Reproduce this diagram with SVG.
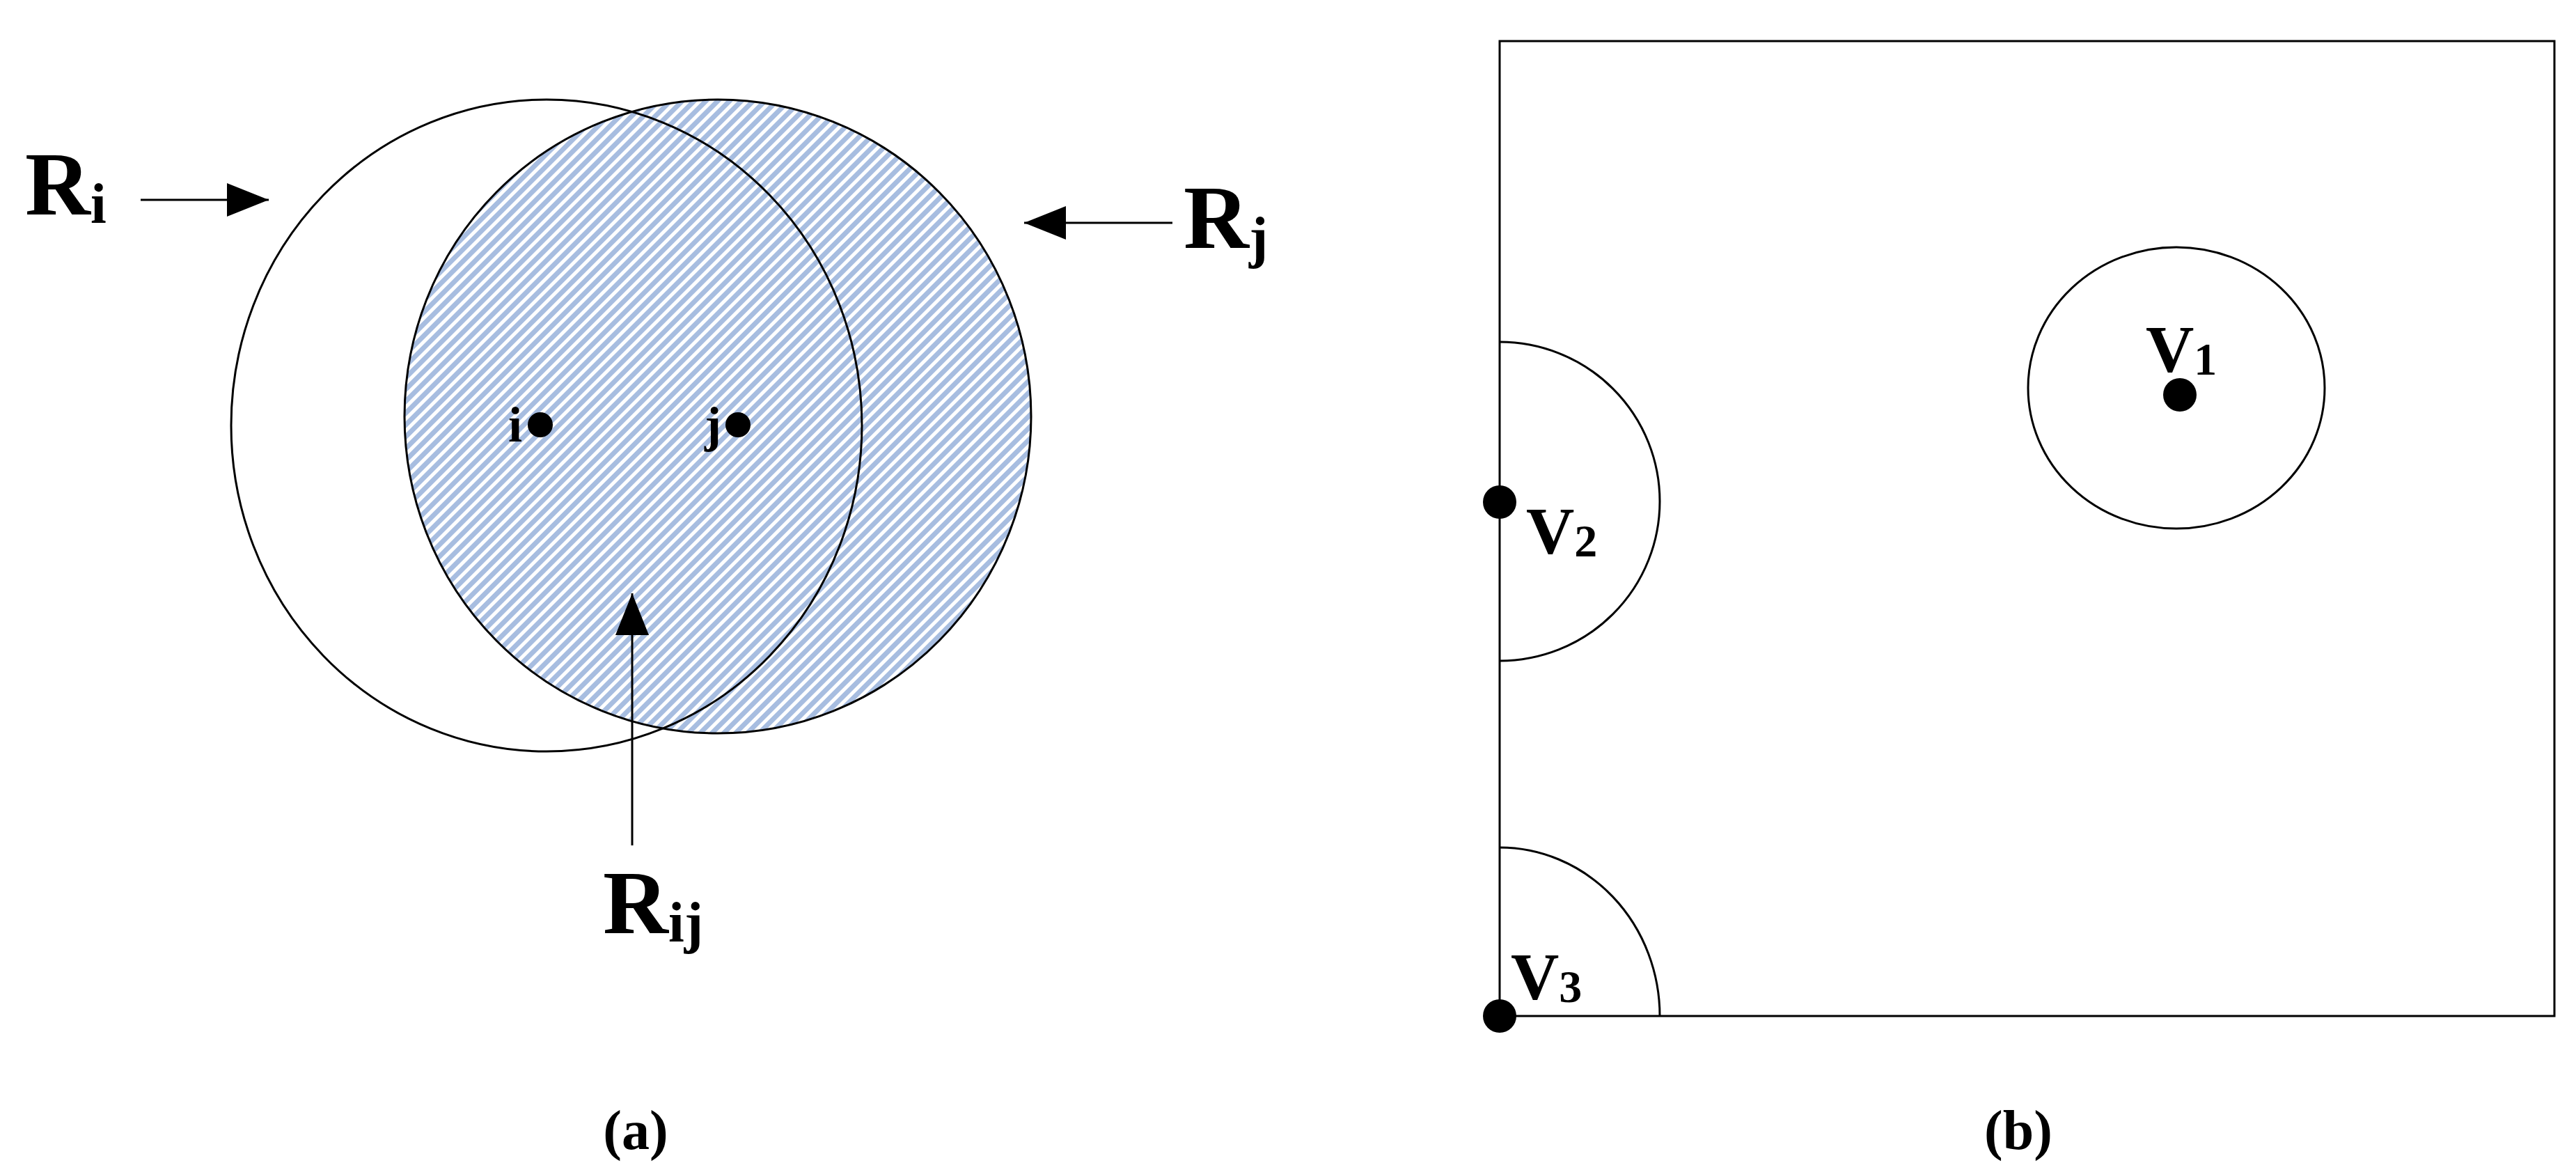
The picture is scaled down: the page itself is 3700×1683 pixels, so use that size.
<svg xmlns="http://www.w3.org/2000/svg" width="3700" height="1683" viewBox="0 0 3700 1683">
<style>
.ln{fill:none;stroke:#000;stroke-width:3}
.t{font-family:"Liberation Serif",serif;font-weight:bold;fill:#000}
.big{font-size:130px}
.sub{font-size:82px}
.lab{font-size:80px}
.vl{font-size:96px}
</style>
<defs>
<pattern id="hatch" width="12" height="12" patternUnits="userSpaceOnUse" patternTransform="rotate(45)">
<rect width="12" height="12" fill="#ffffff"/>
<rect width="7" height="12" fill="#a7bde0"/>
</pattern>
<marker id="ahL" viewBox="0 0 10 10" refX="10" refY="5" markerWidth="20" markerHeight="20" markerUnits="strokeWidth" orient="auto">
<path d="M0,1 L10,5 L0,9 z" fill="#000"/>
</marker>
</defs>
<g id="panel-a">
<g id="Rj-region"><ellipse cx="1031" cy="598" rx="450" ry="455" fill="url(#hatch)" stroke="#000" stroke-width="3"/></g>
<g id="Ri-region"><ellipse cx="785" cy="611" rx="453" ry="468" class="ln"/></g>
<g id="node-i"><circle cx="776" cy="610" r="18"/><text class="t" x="730" y="634" font-size="72">i</text></g>
<g id="node-j"><circle cx="1060" cy="610" r="18"/><text class="t" x="1012" y="634" font-size="72">j</text></g>
<g id="label-Ri"><text class="t big" x="36" y="308">R<tspan class="sub" dy="12">i</tspan></text></g>
<g id="label-Rj"><text class="t big" x="1700" y="356">R<tspan class="sub" dy="12">j</tspan></text></g>
<g id="label-Rij"><text class="t big" x="866" y="1340">R<tspan class="sub" dy="12">ij</tspan></text></g>
<text class="t lab" x="913" y="1650" text-anchor="middle">(a)</text>
</g>
<g id="connectors" stroke="#000" stroke-width="3" fill="none">
<line x1="202" y1="287" x2="386" y2="287" marker-end="url(#ahL)"/>
<line x1="1684" y1="320" x2="1471" y2="320" marker-end="url(#ahL)"/>
<line x1="908" y1="1214" x2="908" y2="852" marker-end="url(#ahL)"/>
</g>
<g id="panel-b">
<g id="frame"><path class="ln" d="M2154,59 L3669,59 L3669,1459 L2154,1459 Z"/></g>
<g id="V1"><ellipse cx="3126" cy="557" rx="213" ry="202" class="ln"/><circle cx="3131" cy="567" r="24"/><text class="t vl" x="3082" y="534">V<tspan font-size="66" dy="4">1</tspan></text></g>
<g id="V2"><path class="ln" d="M2154,491 A230,229 0 0 1 2154,949"/><circle cx="2154" cy="721" r="24"/><text class="t vl" x="2192" y="795">V<tspan font-size="66" dy="4">2</tspan></text></g>
<g id="V3"><path class="ln" d="M2154,1217 A230,242 0 0 1 2384,1459"/><circle cx="2154" cy="1459" r="24"/><text class="t vl" x="2170" y="1435">V<tspan font-size="66" dy="4">3</tspan></text></g>
<text class="t lab" x="2899" y="1650" text-anchor="middle">(b)</text>
</g>
</svg>
